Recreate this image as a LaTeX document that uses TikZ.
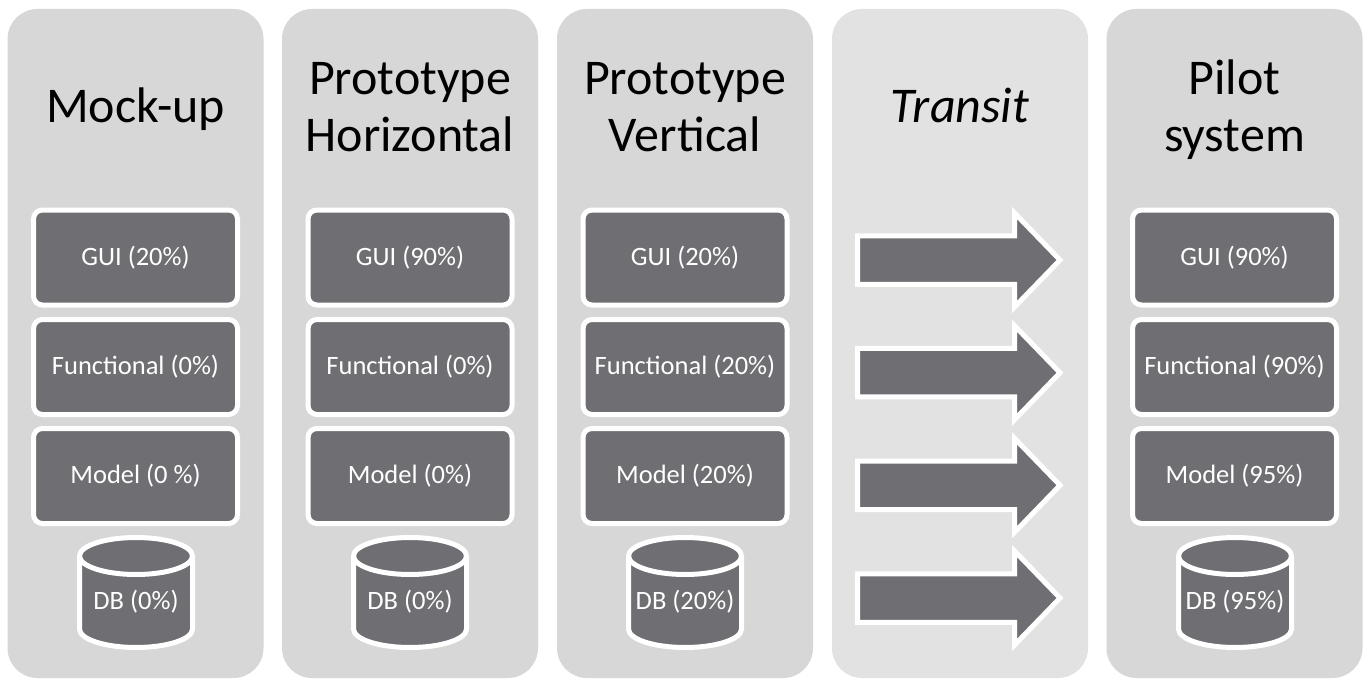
\documentclass[tikz,border=0pt]{standalone}
\usepackage{fontspec}
\setmainfont{Carlito}
\definecolor{colbg}{RGB}{215,215,215}
\definecolor{transbg}{RGB}{226,226,226}
\definecolor{darkfill}{RGB}{111,110,115}
\tikzset{
  colbox/.style={rectangle, rounded corners=30pt, minimum width=256pt, minimum height=669pt, inner sep=0pt, outer sep=0pt},
  titletext/.style={font=\fontsize{50}{57}\selectfont, align=center, inner sep=0pt, anchor=base, text=black},
  layerbox/.style={rectangle, rounded corners=9pt, fill=darkfill, draw=white, line width=5pt, minimum width=204pt, minimum height=95pt, text=white, font=\fontsize{26.5}{31}\selectfont, inner sep=0pt},
  dbshape/.style={fill=darkfill, draw=white, line width=5pt},
  dbtext/.style={text=white, font=\fontsize{26.5}{31}\selectfont, inner sep=0pt},
  arrowshape/.style={fill=darkfill, draw=white, line width=5pt, line join=miter}
}
\begin{document}
\begin{tikzpicture}[x=1pt,y=1pt]
\useasboundingbox (0,0) rectangle (1364,-679);
\fill[white] (0,0) rectangle (1364,-679);
% columns
\node[colbox, fill=colbg] (col1) at (135.5,-343.5) {};
\node[colbox, fill=colbg] (col2) at (410,-343.5) {};
\node[colbox, fill=colbg] (col3) at (685,-343.5) {};
\node[colbox, fill=transbg] (col4) at (960,-343.5) {};
\node[colbox, fill=colbg] (col5) at (1234.5,-343.5) {};
% titles
\node[titletext] (t1) at (135.5,-123) {Mock-up};
\node[titletext] (t2) at (410,-152) {Prototype\\Horizontal};
\node[titletext] (t3) at (685,-152) {Prototype\\Vertical};
\node[titletext, font=\fontsize{50}{57}\selectfont\itshape] (t4) at (960,-123) {Transit};
\node[titletext] (t5) at (1234.5,-152) {Pilot\\system};
% layer boxes
\node[layerbox] (g1) at (135.5,-257.5) {GUI (20\%)};
\node[layerbox] (f1) at (135.5,-367) {Functional (0\%)};
\node[layerbox] (m1) at (135.5,-476) {Model (0 \%)};
\node[layerbox] (g2) at (410,-257.5) {GUI (90\%)};
\node[layerbox] (f2) at (410,-367) {Functional (0\%)};
\node[layerbox] (m2) at (410,-476) {Model (0\%)};
\node[layerbox] (g3) at (685,-257.5) {GUI (20\%)};
\node[layerbox] (f3) at (685,-367) {Functional (20\%)};
\node[layerbox] (m3) at (685,-476) {Model (20\%)};
\node[layerbox] (g5) at (1234.5,-257.5) {GUI (90\%)};
\node[layerbox] (f5) at (1234.5,-367) {Functional (90\%)};
\node[layerbox] (m5) at (1234.5,-476) {Model (95\%)};
% databases
\foreach \cx in {136,410,685,1235}{
  \filldraw[dbshape] (\cx-56.5,-556) arc[start angle=180,end angle=0,x radius=56.5,y radius=18.5]
     -- (\cx+56.5,-629) arc[start angle=0,end angle=-180,x radius=56.5,y radius=18.5] -- cycle;
  \draw[white, line width=5pt] (\cx-56.5,-556) arc[start angle=180,end angle=360,x radius=56.5,y radius=18.5];
}
\node[dbtext] (d1) at (136,-602) {DB (0\%)};
\node[dbtext] (d2) at (410,-602) {DB (0\%)};
\node[dbtext] (d3) at (685,-602) {DB (20\%)};
\node[dbtext] (d5) at (1235,-602) {DB (95\%)};
% transit arrows
\foreach \ay in {260,372.7,485.3,598}{
  \filldraw[arrowshape] (857.5,-\ay+24.25) -- (1014.5,-\ay+24.25) -- (1014.5,-\ay+47) -- (1060,-\ay)
     -- (1014.5,-\ay-47) -- (1014.5,-\ay-24.25) -- (857.5,-\ay-24.25) -- cycle;
}
\end{tikzpicture}
\end{document}
